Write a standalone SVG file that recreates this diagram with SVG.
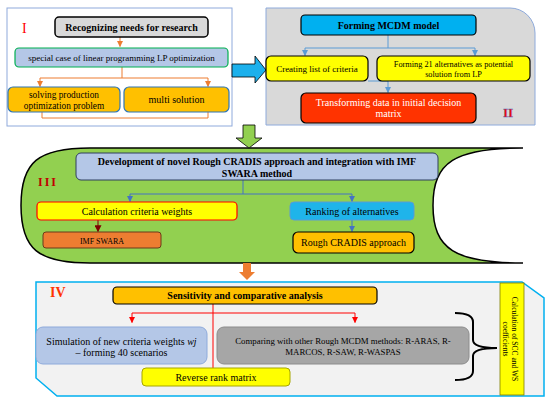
<svg xmlns="http://www.w3.org/2000/svg" width="550" height="401" viewBox="0 0 550 401">
<defs>
<style>
text{font-family:"Liberation Serif","Times New Roman",serif;fill:#000}
.b{font-weight:bold}
.c{text-anchor:middle}
.ln{fill:none;stroke-width:1}
</style>
<marker id="aO" viewBox="0 0 10 10" refX="9" refY="5" markerWidth="6" markerHeight="6" markerUnits="userSpaceOnUse" orient="auto"><path d="M0,0L10,5L0,10Z" fill="#ed7d31"/></marker>
<marker id="aB" viewBox="0 0 10 10" refX="9" refY="5" markerWidth="6" markerHeight="6" markerUnits="userSpaceOnUse" orient="auto"><path d="M0,0L10,5L0,10Z" fill="#5b9bd5"/></marker>
<marker id="aB2" viewBox="0 0 10 10" refX="9" refY="5" markerWidth="6" markerHeight="6" markerUnits="userSpaceOnUse" orient="auto"><path d="M0,0L10,5L0,10Z" fill="#4472c4"/></marker>
<marker id="aR" viewBox="0 0 10 10" refX="9" refY="5" markerWidth="6" markerHeight="6" markerUnits="userSpaceOnUse" orient="auto"><path d="M0,0L10,5L0,10Z" fill="#ff0000"/></marker>
<marker id="aD" viewBox="0 0 10 10" refX="9" refY="5" markerWidth="7" markerHeight="7" markerUnits="userSpaceOnUse" orient="auto"><path d="M0,0L10,5L0,10Z" fill="#7f0000"/></marker>
</defs>
<rect width="550" height="401" fill="#fff"/>

<!-- panels -->
<g id="panel1">
<rect x="7" y="8" width="225" height="118" fill="#fff" stroke="#8faadc" stroke-width="1"/>
<text x="22" y="33" font-size="14" style="fill:#ff0000">I</text>
</g>
<g id="panel2">
<path d="M266,8H510A25,25 0 0 1 535,33V125H266Z" fill="#d9d9d9" stroke="#8eaadb" stroke-width="1"/>
<text x="503" y="117" font-size="13" class="b" style="fill:#ff0000;stroke:#4472c4;stroke-width:0.4">II</text>
</g>
<g id="panel3">
<path d="M90,148H523C455,148 433,162 433,205.5C433,249 455,263 523,263H90C38,263 21,249 21,205.5C21,162 38,148 90,148Z" fill="#92d050" stroke="#000" stroke-width="1.5"/>
<text x="38" y="186" font-size="12" class="b" letter-spacing="2" style="fill:#c00000">III</text>
</g>
<g id="panel4">
<path d="M36,282H522L544,298V396H57L36,378Z" fill="#f2f2f2" stroke="#00b0f0" stroke-width="1.5"/>
<text x="50" y="297" font-size="14" class="b" style="fill:#ff3300">IV</text>
</g>

<!-- big arrows between stages -->
<g id="flow-arrows">
<polygon points="232,64 255,64 255,56 266,70 255,83 255,77 232,77" fill="#1cb0ec" stroke="#000" stroke-width="0.8"/>
<polygon points="243,125 255,125 255,138 262,138 249,148 236,138 243,138" fill="#92d050" stroke="#000" stroke-width="0.8"/>
<polygon points="243,263 251,263 251,272 255,272 247,280 239,272 243,272" fill="#ed7d31"/>
</g>

<!-- connectors -->
<g id="connectors">
<path class="ln" stroke="#ed7d31" d="M120,37V46.5" marker-end="url(#aO)"/>
<path class="ln" stroke="#ed7d31" d="M122,67V78M40,78H208"/>
<path class="ln" stroke="#ed7d31" d="M40,78V86.5" marker-end="url(#aO)"/>
<path class="ln" stroke="#ed7d31" d="M208,78V86.5" marker-end="url(#aO)"/>
<path class="ln" stroke="#ed7d31" d="M42,112V118H208V112"/>

<path class="ln" stroke="#5b9bd5" d="M388,35V48M305,48H475M368,81H388"/>
<path class="ln" stroke="#5b9bd5" d="M305,48V55.5" marker-end="url(#aB)"/>
<path class="ln" stroke="#5b9bd5" d="M475,48V55.5" marker-end="url(#aB)"/>
<path class="ln" stroke="#5b9bd5" d="M388,81V92.5" marker-end="url(#aB)"/>

<path class="ln" stroke="#4472c4" d="M243,180V194M130,194H352"/>
<path class="ln" stroke="#4472c4" d="M130,194V201.5" marker-end="url(#aB2)"/>
<path class="ln" stroke="#4472c4" d="M352,194V201.5" marker-end="url(#aB2)"/>
<path class="ln" stroke="#4472c4" d="M352,220V231.5" marker-end="url(#aB2)"/>
<path class="ln" stroke="#7f0000" stroke-width="2" d="M98,220V231.5" marker-end="url(#aD)"/>

<path class="ln" stroke="#ff0000" d="M213,304V368M132,313H355"/>
<path class="ln" stroke="#ff0000" d="M132,313V322.5" marker-end="url(#aR)"/>
<path class="ln" stroke="#ff0000" d="M355,313V322.5" marker-end="url(#aR)"/>

<path d="M455,313Q473,313 473,322V340Q473,348 497,348Q473,348 473,356V371Q473,380 455,380" fill="none" stroke="#000" stroke-width="2"/>
</g>

<!-- stage I nodes -->
<g id="recognizing">
<rect x="55" y="17" width="153" height="20" rx="4" fill="#d9d9d9" stroke="#000" stroke-width="1.5"/>
<text x="131.5" y="31" font-size="10" class="b c">Recognizing needs for research</text>
</g>
<g id="special-case">
<rect x="15" y="48" width="213" height="19" rx="4" fill="#b4c7e7" stroke="#00b050" stroke-width="1.2"/>
<text x="121.5" y="60.5" font-size="9" class="c">special case of linear programming LP optimization</text>
</g>
<g id="solving">
<rect x="8" y="87" width="112" height="25" rx="5" fill="#ffc000" stroke="#2e75b6" stroke-width="1.2"/>
<text x="64" y="98" font-size="9.3" class="c">solving production</text>
<text x="64" y="108.5" font-size="9.3" class="c">optimization problem</text>
</g>
<g id="multi">
<rect x="124" y="87" width="105" height="25" rx="5" fill="#ffc000" stroke="#2e75b6" stroke-width="1.2"/>
<text x="176.5" y="103" font-size="10" class="c">multi solution</text>
</g>

<!-- stage II nodes -->
<g id="forming-mcdm">
<rect x="301" y="15" width="175" height="20" rx="4" fill="#00b0f0" stroke="#000" stroke-width="1.2"/>
<text x="388.5" y="29" font-size="10" class="b c">Forming MCDM model</text>
</g>
<g id="criteria-list">
<rect x="266" y="56" width="102" height="25" rx="5" fill="#ffff00" stroke="#000" stroke-width="1.2"/>
<text x="317" y="72" font-size="9" class="c">Creating list of criteria</text>
</g>
<g id="alternatives">
<rect x="377" y="56" width="153" height="25" rx="5" fill="#ffff00" stroke="#000" stroke-width="1.2"/>
<text x="453.5" y="66.5" font-size="8.3" class="c">Forming 21 alternatives as potential</text>
<text x="453.5" y="76.5" font-size="8.3" class="c">solution from LP</text>
</g>
<g id="transforming">
<rect x="301" y="93" width="175" height="30" rx="5" fill="#ff3300" stroke="#000" stroke-width="1.2"/>
<text x="388.5" y="105.5" font-size="10" class="c" style="fill:#fff">Transforming data in initial decision</text>
<text x="388.5" y="117" font-size="10" class="c" style="fill:#fff">matrix</text>
</g>

<!-- stage III nodes -->
<g id="development">
<rect x="76" y="153" width="362" height="27" rx="5" fill="#b4c7e7" stroke="#2f3f5f" stroke-width="1"/>
<text x="257" y="165" font-size="10" class="b c">Development of novel Rough CRADIS approach and integration with IMF</text>
<text x="257" y="176.5" font-size="10" class="b c">SWARA method</text>
</g>
<g id="calc-weights">
<rect x="37" y="202" width="200" height="18" rx="4" fill="#ffff00" stroke="#ff0000" stroke-width="1.2"/>
<text x="137" y="215" font-size="10" class="c">Calculation criteria weights</text>
</g>
<g id="imf-swara">
<rect x="43" y="232" width="118" height="16" rx="3" fill="#ed7d31" stroke="#6b3a1a" stroke-width="1"/>
<text x="102" y="243.5" font-size="8" class="c">IMF SWARA</text>
</g>
<g id="ranking">
<rect x="290" y="202" width="124" height="18" rx="4" fill="#1fb4ea" stroke="#5b9bd5" stroke-width="1"/>
<text x="352" y="215" font-size="10" class="c">Ranking of alternatives</text>
</g>
<g id="rough-cradis">
<rect x="293" y="232" width="121" height="21" rx="5" fill="#ffc000" stroke="#000" stroke-width="1.2"/>
<text x="353.5" y="246" font-size="10" class="c">Rough CRADIS approach</text>
</g>

<!-- stage IV nodes -->
<g id="sensitivity">
<rect x="113" y="287" width="264" height="17" rx="4" fill="#ffc000" stroke="#000" stroke-width="1.2"/>
<text x="245" y="299" font-size="10" class="b c">Sensitivity and comparative analysis</text>
</g>
<g id="simulation">
<rect x="36" y="327" width="171" height="37" rx="7" fill="#b4c7e7" stroke="#8eaadb" stroke-width="1"/>
<text x="121.5" y="344.5" font-size="10" class="c">Simulation of new criteria weights <tspan font-style="italic">wj</tspan></text>
<text x="121.5" y="355.5" font-size="10" class="c">– forming 40 scenarios</text>
</g>
<g id="comparing">
<rect x="217" y="327" width="252" height="37" rx="7" fill="#a6a6a6" stroke="#8c8c8c" stroke-width="1"/>
<text x="343" y="344" font-size="8.8" class="c">Comparing with other Rough MCDM methods: R-ARAS, R-</text>
<text x="343" y="355" font-size="8.8" class="c">MARCOS, R-SAW, R-WASPAS</text>
</g>
<g id="reverse-rank">
<rect x="142" y="368" width="148" height="18" rx="4" fill="#ffff00" stroke="#a6a600" stroke-width="1"/>
<text x="216" y="381" font-size="10" class="c">Reverse rank matrix</text>
</g>
<g id="scc-ws">
<rect x="500" y="283" width="24" height="112" fill="#ffff00" stroke="#7f7f00" stroke-width="0.8"/>
<g transform="translate(512,339) rotate(90)">
<text x="0" y="0.5" font-size="7.5" class="c">Calculation of SCC and WS</text>
<text x="0" y="9.5" font-size="7.5" class="c">coefficients</text>
</g>
</g>
</svg>
